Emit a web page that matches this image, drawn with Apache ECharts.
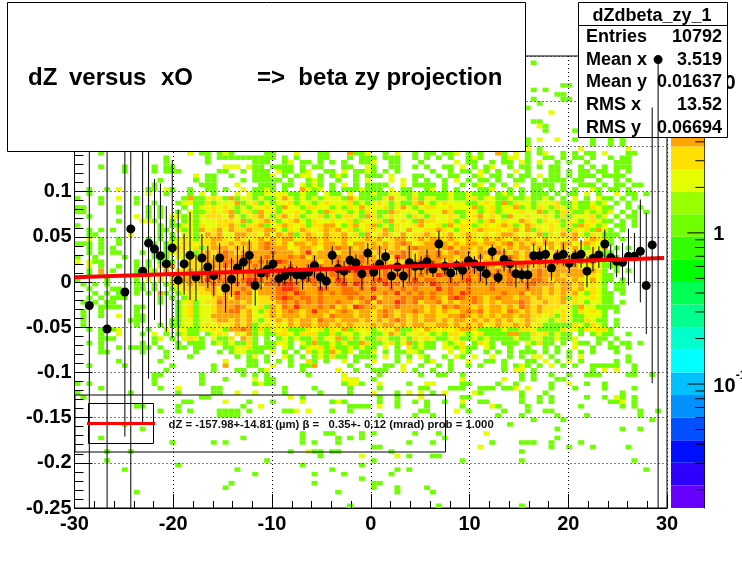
<!DOCTYPE html>
<html><head><meta charset="utf-8">
<style>html,body{margin:0;padding:0;background:#fff}#c{width:742px;height:565px}</style>
<script src="https://cdn.jsdelivr.net/npm/echarts@6/dist/echarts.min.js"></script>
</head><body><div id="c"></div>
<script>
// Bin counts. Top row first (y bin 99) down to y bin 0; x bins 0..99, grouped by ten.
const cellCountRows = [
"",
".......... .......... .......... .......... .......... .......... .......... .......1..",
"","","","",
".......... .......... .......... .......... .......... .......... .......... .......... ..11......",
".......... .......... .......... .......... .......... .......... .......... .......1.1",
".......... .......... .......... .......... .......... .......... .......... .......... .11.......",
".......... .......... .......... .......... .......... .......... .......... .......1.. ..11......",
".......... .......... .......... .......... .......... .......... .......... ........1.",
".......... .......... .......... .......... .......... .......... .......... ......1...",
".......... .......... .......... .......... .......... .......... .......... .......... 2.........",
"",
".......... .......... .......... .......... .......... .......... .......... .......11.",
".......... .......... .......... .......... .......... .......... .......... ........21",
".......... .......... .......... .......... .......... .......... .......... .........1 ....1.....",
"",
".......... .......... .......... .......... .......... .......... .......... ......1.2. .2..1..1.. 1.1.......",
".......... .......... .......... .......... .......... .......... .......... ......1... .......1.. 1.1.......",
".......... .......... .......... .......... .......... .......... .......... ......2.1. .....2.... ...2......",
"....1..... .........2 .11.121... ..11...2.. .11...4112 ..1.2..1.1 1.112.1.1. .41.2.1.12 ..1.1.11.2 ...11.....",
".......... .....1.... ..1.111111 1111.1.1.. .11...1.11 1.111..1.1 .1.1..121. ..122.1..1 1.1.11.1.. 1.11......",
".......... .....1.... ..1....... 111..12.11 .1.1.1..11 2..11...1. ....2.11.. 1.11.21.2. .1.1..1... .111......",
"....1...1. ...1.11... .....222.2 11.1111.1. 11...11..2 1..11..1.1 ..11.2.1.1 2..1.11.1. 11...1.1.1 .111......",
"........1. ...1.111.. ....11..1. 111.211.12 ..11.2.112 1.1.1..... 1..1.11.21 .1..2.1... 11.1.11.11 .1.1......",
".......... .......... 2.11..1... 1112.1.122 .1.121.1.1 11.2...11. .1.11..12. 11.1.11.2. 11.1.111.1 111.......",
".......... ....1..... 1.11....1. 11111.1..1 21..1..1.2 ...2.2.1.1 ..1.2.1.11 .1..11.1.1 111.11..1. .1.1......",
".......... ...1...... .111...2.. .111.11.21 21.1.2.1.1 111..2.111 1.1..1.12. 1.1.2..111 1.1..111.1 .11.11....",
"..1..1.2.. ..11.21..1 ..11.1..2. 1121.1..42 12.1.11121 11.2.11..1 2.1.1...11 2..1.1.11. 1.1.1..21. 11.1......",
"..1....... ..2..1...1 .2.1...2.2 1122221121 1.211.2.11 2112211211 1112112111 .121.1.111 .1.11.2.1. .2.11.1...",
"1...1..2.. 1.......14 1123214122 1211242121 2122214211 1124221312 2112112312 2112112112 1.1.2.1.21 1.1.1.....",
"....1..... 1..1...122 1131222412 3121223122 1232223121 2321211342 1232221123 2141322122 2311211212 .1.1......",
"11.....1.. ..1.1...1. 1223232121 2232142213 3221213242 2231242123 3223222412 3122412132 1321211321 1..1.1....",
"11.....1.. ..1.1..1.2 1123234123 1423122321 2143221213 2114322212 2243113212 3122232241 2133112121 2.1.1.1...",
"..1....... 2.1.1.2212 1233324212 3421342312 2312133214 3123221321 3223212342 3214223223 2131222312 .1.11.....",
".......1.. .221..1.12 1222333241 2343123421 3223223132 2314232143 3223123213 4232243213 2313212321 1.1.1.....",
"1......... ....1.1122 1322334313 3412343231 3344213423 4121322342 2314233123 2343124322 3213143212 .11.1.....",
"..1.1.1... ....11.212 1423424334 3344213243 2343423123 3241324223 3432132343 3323424132 3231323142 1.1.......",
"..11.....2 ....1.1.22 1243422443 3242434134 3243342314 2343242334 3234234323 2344323241 3243421321 11........",
"..2.1..1.. ..1.1.1232 1334432432 3434344234 4343343234 3423442343 4434324324 3432434324 23234.3432 1.1.......",
"111.1..1.. ...1.12233 2334334344 3464342443 4344342443 4343464234 4443434434 4346343434 4344234321 1.........",
"..1.1.1... ...1.12332 3134443434 3464442344 3244644343 4443434644 4346344343 3434344242 4243421324 .1.1......",
"..1.1.11.. .1.1.12323 1343464344 4446444348 3446344444 3434464344 4634644344 4643434344 3442432321 1.........",
"1..1....1. ...1.1.223 3343464464 4464446463 4444644464 4343864346 4644344363 4346434634 3644342321 .1.1......",
"2.211..... 1.1.1.1.33 3344466446 4644864444 6344644464 4643434464 6434344634 4443434644 3424343421 1.........",
"..2.1..1.. 1.1.3.4.23 3344464444 6446446446 4644646844 6446444634 4864446436 4363464344 3443422321 11........",
"..1.4.1... 1.21.4.334 3464444646 4466864646 6446646846 4464446446 8464346646 4646343464 3444442431 .1.1......",
"..1.1..... 1.1.3.4.44 4464646446 6484646664 6446644646 6464646464 4864466464 6446446464 4434442321 1.........",
"1....1.... 1.2.3.3444 4484664468 8646866468 6644864664 6864464846 6446468464 4846444664 3443432421 1.1.......",
".1.1.1.... 11.1.13334 3446444648 4366688644 6464684864 6486646664 8646646444 6446446644 4344342321 .11.......",
"..1...11.. 11.1..1233 3344344464 3444688644 4864466464 8446464644 4846446444 6444446443 4344342321 .11.......",
"...1.1.11. 1.1.41.123 2334344846 2444664864 4646466644 4464846464 6446486444 4464463443 4343421321 1.1.......",
"..1.1.111. ....1.1.13 2223443644 2334686466 4644446464 8344464664 6436864643 4644344343 3341322321 1.........",
".1.1.11... ....1..123 1233644434 2333464646 4644644346 3644864634 4634344643 4344464334 3342321221 1.1.......",
"....1111.. 11.....123 1223444643 2314364844 4646343864 4344644443 4364644343 4434364343 3323142211 11........",
".1..1..... 1......123 1223446634 2134346434 8443464344 3464344643 4343346463 4436434343 3232132321 .1........",
".1..1..2.. 11.....123 1224444434 2234344434 4436444344 3464343434 4334464343 4344344332 3132112221 ..........",
".1.......1 11....1122 1223443434 2123434344 3644344434 3434643434 4343443434 3434234322 1232113211 .1........",
".1........ 1...1.1122 1232323434 1232324344 3443434333 4344343443 3443434342 3433434231 1111321321 .1........",
"..1.1.12.. ..1..2.221 1223214464 1313231113 2313241323 1232411324 3232344311 1121133211 1132213233 1.........",
"....1..2.. .1.2.1.121 1.1232.324 1211332133 3113122122 1124312232 1213321231 1114411323 1211.1.121 1..1......",
"....111... ...12.1.23 21.2113.43 1.1.121211 3122413121 1321121323 2112311212 1111211221 12112...11 .1........",
"..1.1..... .1.1...1.1 11.1212113 1.11221.21 4112121143 1123124121 1.2123.132 1.111.2131 1.1.211.1. 1.11.1....",
"....1..1.1 111.1..11. 11...11223 1111.21.12 2313112121 1.2.1.3121 1.221311.2 1..1..1..1 .1..2..1.. 11.1......",
"....11.... .1...1.... 1...1.1221 11.2.1.1.3 1214212.11 2.1.11221. ...2.21..1 .1.1.111.1 .1.1.1.1.. .1........",
".......... .....1...1 .......1.1 2.1..21.1. 121311.111 1.2.1.1.21 ..1.21.2.. 2..1.1.22. 1..1.2.... ...1......",
".......1.. ....1..... .....2...1 1.1.1.1..3 1.1..2.1.. 2...1.2..1 2..1..2..1 1.1...11.2 .1.2.1.... .1.1......",
"..1.....1. ......1... ...1.4...1 1..2..1.11 4.....1..1 ..11.2..1. .1.1..1.1. ..1.121.1. 2.1.1..111 11..1.....",
".......... .....1.... ...1...11. .12.....1. ....2..1.. 111..2.1.. 1..1...... ..1.22.1.. .......1.2 .2..1.....",
".......... ...11..... .1......1. 1.1......1 .....2.... .1......1. .11..1.... .....1.1.. 1..1..111. ...11..1..",
".......... ...1...... .1...1.... 2.11...... .....222.. 1......... .....2.... ..2..1.1.. .11.......",
"1.1....... ...1...... .1........ 1211...... .....1221. .2....1..2 2....11... .1..1..... 1..2..1..1",
"....1..... ....1..2.. ...11..... .....1.... 1.....1... .1......11 ...111..11 1.112.2... 1...1....1 ....1.....",
"1........1 .......1.. ...11..2.. 2....1.... .1....1... 2...1.2.2. 1.2....21. .....1...1 .......... ..1.......",
".1........ .......... .11....... ......2.1. .......... .1..1...2. .....11... .....1..1. 1.....1..1 .21.1.....",
".......... ........11 .....2...1 ...1....2. ...121.... .1..1..1.1 ..1..2..11 .....1..1. 1......... 112.1.....",
".......... 11.....1.. ........1. .2........ ......1111 .2..1....1 .....1.... 21....1... .....1.... ..1.1.....",
".......... ....1..1.1 ....1111.1 .....112.2 ...1..1... ........11 ....2.1... ..1...1..1 1......... .....1..1.",
".......... .......... ....1111.. .......... .......... .1.....1.. 1......... .1...1.... .1....1... .....1....",
".......... .......... .......... .......... .......... .......... .......... .......1.. ..1....... .......1..",
"........1. .......... .......... .......... .......... .......... .......... ...1......",
".......... .1........ .......... .......... .......... .......... .......... .......... .1........ ..1..1....",
".......... .......... .......... ........1. ..11....1. 1......1.. .1.......2",
"....1..... .......... ........1. ........1. ....1.1.1. .......... ..1....... .......... .1........",
".......... ......1... ...1.1.... ........1. 1...1..... ......1... 1......... 1....111.. 1....1....",
".......... .......... .......... .......... .......... 11........ ........2. .......... 1..1...1.. ...1......",
".....1...1 .......... .......... ......1..2 11.11..... ...1...... .......... .....1....",
".......... .......... .......... .......... .1......2. ....2.1... 11........",
".....1.... .......... .......... ..1....... .......... 1......... .....1.... .....1.... .......... ....1.....",
".......... .......1.. .......... ........1. ........1.",
"........1. .......... .......1.. .......... ...1...... ....1.1... .......... .......... .......... ......1...",
".......... .......... .......... 1......... 1....1.... ...1......",
".......... .......... .......... .......... ........1.",
".......... .......... ......1... .......... 1......... 11........",
".......... .......... .....1.... .......... .......... 1...1....1",
".......... 1......... .......... .......... ....1..... ....1..... 1.........",
"","",
".......... .......... .......... .......... ......1... .......... .1........ .....1...."
];
const xBinCount = 100, yBinCount = 100;
const xMin = -30, xMax = 30, yMin = -0.25, yMax = 0.25;
const markerBins = [2,5,8,9,11,12,13,14,15,16,17,18,19,20,21,22,23,24,25,26,27,28,29,30,31,32,33,34,35,36,37,38,39,40,41,42,43,44,45,46,47,48,49,50,51,52,53,54,55,56,57,58,59,60,61,62,63,64,65,66,67,68,69,70,71,72,73,74,75,76,77,78,79,80,81,82,83,84,85,86,87,88,89,90,91,92,93,94,95,96,97,98];
const markerValues = [-.026,-.052,-.011,.0587,.012,.043,.0365,.029,.02,.0377,.002,.02,.0295,.0055,.0266,.0166,.007,.0266,-.0066,.003,.0155,.022,.0295,-.004,.01,.0137,.02,.0037,.007,.012,.008,.0074,.0107,.018,.0055,.001,.0295,.0148,.012,.024,.021,.009,.032,.011,.02,.028,.0066,.0166,.0066,.0214,.0173,.018,.0225,.0144,.042,.0173,.01,.018,.013,.0236,.02,.0166,.009,.0336,.005,.025,.02,.009,.008,.008,.029,.029,.0306,.0155,.0277,.0306,.0207,.028,.0306,.012,.026,.03,.042,.027,.023,.0218,.0284,.0284,.034,-.004,.041,.246];
const errorTops = [.25,.25,.25,.25,.25,.25,.114,.109,.084,.135,.08,.0535,.0775,.03,.053,.04,.03,.043,.021,.0266,.04,.04,.047,.0155,.0285,.0247,.034,.0118,.0173,.0229,.0173,.0155,.0192,.0292,.0173,.0118,.0395,.0247,.0229,.0395,.0303,.0192,.0432,.021,.0402,.0365,.0155,.0277,.0173,.0402,.0314,.0284,.0358,.0229,.0568,.0266,.0192,.0247,.0229,.034,.0284,.0314,.0173,.0413,.0129,.0369,.0273,.021,.0155,.0192,.0425,.0377,.0458,.0247,.0358,.0432,.0303,.0358,.0469,.0284,.0388,.0395,.058,.0413,.0406,.0432,.0591,.0543,.0912,.0764,.193,.25];
const errorBottoms = [-.25,-.25,-.171,-.25,-.156,-.107,-.042,-.05,-.055,-.062,-.075,-.014,-.02,-.021,-.001,-.0066,-.016,.0026,-.034,-.0166,-.005,.0026,.012,-.026,-.0085,.0026,.0063,-.0048,-.003,.0007,-.003,-.0085,.0007,.0044,-.0085,-.0085,.0192,.0026,-.0011,.01,.0118,-.0085,.0192,.0007,.0026,.0192,-.0074,.0063,-.0059,-.0004,.0026,.0081,.0081,.0055,.0277,.0081,-.0004,.0081,.0026,.0137,.0089,.0007,-.0037,.024,-.0018,.0118,.01,-.0059,-.0004,-.0074,.0155,.0192,.0155,.0015,.0192,.0181,.01,.0166,.0155,-.0059,.0118,.0155,.0266,.0137,.0052,.0015,-.0037,0,-.0225,-.0576,-.112,-.25];
const fitX = [-30, 29.7];
const fitY = [0.0052, 0.0266];
const xTickMajor = 10, yTickMajor = 0.05;
const paletteColors = ["#6600ff","#3000ff","#0010ff","#0050ff","#0090ff","#00bfff","#00ffff","#00ffcc","#00ff90","#00ff55","#00ff00","#33ff00","#70ff00","#99ff00","#e6ff00","#ffe000","#ffa500","#ff7000","#ff3000","#ff0000"];
const zLogMin = -1.82, zLogMax = 1.17;
const colorTickValues = [.02,.03,.04,.05,.06,.07,.08,.09,.1,.2,.3,.4,.5,.6,.7,.8,.9,1,2,3,4,5,6,7,8,9,10];
const colorMajorTicks = [.1,1,10];
const colorLabels = [["10","" ,10],["1","",1],["10","-1",.1]];
const statsTitle = "dZdbeta_zy_1";
const statsNames = ["Entries","Mean x","Mean y","RMS x","RMS y"];
const statsValues = ["10792","3.519","0.01637","13.52","0.06694"];
const titleParts = [["dZ",28],["versus",69],["xO",161],["=>  beta zy projection",257]];
const fitLabel = "dZ = -157.98+-14.81 (\u00b5m) \u03b2 =   0.35+- 0.12 (mrad) prob = 1.000";

const FONT = '"Liberation Sans", Arial, sans-serif';
const cells = [];
cellCountRows.forEach((row, r) => {
  const s = row.replace(/ /g, "");
  const j = yBinCount - 1 - r;
  for (let i = 0; i < s.length; i++) if (s[i] !== ".") cells.push([i, j, +s[i]]);
});
const xw = (xMax - xMin) / xBinCount, yw = (yMax - yMin) / yBinCount;
function colourOf(c) {
  const k = Math.floor((Math.log10(c) - zLogMin) / (zLogMax - zLogMin) * paletteColors.length);
  return paletteColors[Math.max(0, Math.min(paletteColors.length - 1, k))];
}
const points = markerBins.map((b, n) => [xMin + xw * (b + .5), markerValues[n], errorTops[n], errorBottoms[n]]);
const lowPts = points.slice(0, -2), highPts = points.slice(-2);
function errItem(p, api) {
  const a = api.coord([api.value(0), api.value(2)]), b = api.coord([api.value(0), api.value(3)]);
  return {type: "line", shape: {x1: a[0], y1: a[1], x2: b[0], y2: b[1]}, style: {stroke: "#000", lineWidth: 1}};
}
const bandH = (zLogMax - zLogMin) / paletteColors.length;
const chart = echarts.init(document.getElementById("c"), null, {renderer: "canvas"});
const axisText = {color: "#000", fontFamily: FONT, fontWeight: "bold", fontSize: 20};
const black = {color: "#000", width: 1};
const gfx = [
  {type: "rect", z: 6, shape: {x: 75, y: 395, width: 370.5, height: 57}, style: {fill: "none", stroke: "#000", lineWidth: 1}},
  {type: "rect", z: 6, shape: {x: 88.5, y: 403.5, width: 65, height: 40}, style: {fill: "none", stroke: "#000", lineWidth: 1}},
  {type: "line", z: 6, shape: {x1: 87, y1: 423.5, x2: 155, y2: 423.5}, style: {stroke: "#ff0000", lineWidth: 3}},
  {type: "text", z: 6, x: 168.5, y: 424.5, style: {text: fitLabel, font: "bold 11.3px " + FONT, fill: "#111", verticalAlign: "middle"}},
  {type: "rect", z: 8, shape: {x: 7.5, y: 2.5, width: 518, height: 149}, style: {fill: "#fff", stroke: "#000", lineWidth: 1}},
  {type: "rect", z: 6, shape: {x: 578.5, y: 2.5, width: 149, height: 135}, style: {fill: "#fff", stroke: "#000", lineWidth: 1}},
  {type: "line", z: 6, shape: {x1: 578, y1: 25.5, x2: 728, y2: 25.5}, style: {stroke: "#000", lineWidth: 1}},
  {type: "text", z: 6, x: 652, y: 16, style: {text: statsTitle, font: "bold 18px " + FONT, fill: "#000", align: "center", verticalAlign: "middle"}}
];
titleParts.forEach(p => gfx.push({type: "text", z: 9, x: p[1], y: 78, style: {text: p[0], font: "bold 24px " + FONT, fill: "#000", verticalAlign: "middle"}}));
statsNames.forEach((n, k) => {
  const y = 37 + k * 22.75;
  gfx.push({type: "text", z: 6, x: 586, y, style: {text: n, font: "bold 18px " + FONT, fill: "#000", verticalAlign: "middle"}});
  gfx.push({type: "text", z: 6, x: 722, y, style: {text: statsValues[k], font: "bold 18px " + FONT, fill: "#000", align: "right", verticalAlign: "middle"}});
});
chart.setOption({
  animation: false, backgroundColor: "#fff",
  grid: [
    {left: 74.5, top: 56, width: 592.5, height: 452, show: true, borderColor: "#000", borderWidth: 1, backgroundColor: "transparent", containLabel: false},
    {left: 671, top: 56, width: 33.3, height: 452, show: false}
  ],
  xAxis: [
    {type: "value", gridIndex: 0, min: xMin, max: xMax, interval: xTickMajor, z: 3,
      axisLine: {show: true, onZero: false, lineStyle: black},
      axisTick: {inside: true, length: 14, lineStyle: black},
      minorTick: {show: true, splitNumber: 5, length: 7, lineStyle: black},
      splitLine: {show: true, lineStyle: {color: "#000", width: 1, type: [1, 3]}},
      axisLabel: Object.assign({margin: 6, showMinLabel: true, showMaxLabel: true}, axisText)},
    {type: "value", gridIndex: 1, min: 0, max: 1, show: false}
  ],
  yAxis: [
    {type: "value", gridIndex: 0, min: yMin, max: yMax, interval: yTickMajor, z: 3,
      axisLine: {show: true, onZero: false, lineStyle: black},
      axisTick: {inside: true, length: 18, lineStyle: black},
      minorTick: {show: true, splitNumber: 5, length: 9, lineStyle: black},
      splitLine: {show: true, lineStyle: {color: "#000", width: 1, type: [1, 3]}},
      axisLabel: Object.assign({margin: 3, padding: [3, 0, 0, 0], formatter: v => String(Math.round(v * 100) / 100)}, axisText)},
    {type: "value", gridIndex: 1, min: zLogMin, max: zLogMax, position: "right",
      axisLine: {show: true, onZero: false, lineStyle: black}, axisTick: {show: false}, axisLabel: {show: false}, splitLine: {show: false}}
  ],
  graphic: gfx,
  series: [
    {type: "custom", name: "cells", xAxisIndex: 0, yAxisIndex: 0, z: 1, clip: true, silent: true, data: cells,
      renderItem: (p, api) => {
        const i = api.value(0), j = api.value(1);
        const a = api.coord([xMin + i * xw, yMin + (j + 1) * yw]), b = api.coord([xMin + (i + 1) * xw, yMin + j * yw]);
        return {type: "rect", shape: {x: a[0], y: a[1], width: b[0] - a[0], height: b[1] - a[1]}, style: {fill: colourOf(api.value(2))}};
      }},
    {type: "custom", name: "errors", xAxisIndex: 0, yAxisIndex: 0, z: 4, clip: true, silent: true, data: lowPts, renderItem: errItem},
    {type: "scatter", name: "points", xAxisIndex: 0, yAxisIndex: 0, z: 5, symbol: "circle", symbolSize: 9, itemStyle: {color: "#000", opacity: 1}, silent: true, data: lowPts.map(p => [p[0], p[1]])},
    {type: "custom", name: "errorsHigh", xAxisIndex: 0, yAxisIndex: 0, z: 7, clip: true, silent: true, data: highPts, renderItem: errItem},
    {type: "scatter", name: "pointsHigh", xAxisIndex: 0, yAxisIndex: 0, z: 7, symbol: "circle", symbolSize: 9, itemStyle: {color: "#000", opacity: 1}, silent: true, data: highPts.map(p => [p[0], p[1]])},
    {type: "line", name: "fit", xAxisIndex: 0, yAxisIndex: 0, z: 5.5, showSymbol: false, silent: true, lineStyle: {color: "#ff0000", width: 4}, data: fitX.map((x, k) => [x, fitY[k]])},
    {type: "custom", name: "palette", xAxisIndex: 1, yAxisIndex: 1, z: 1, silent: true, data: paletteColors.map((c, k) => [k]),
      renderItem: (p, api) => {
        const k = api.value(0);
        const a = api.coord([0, zLogMin + (k + 1) * bandH]), b = api.coord([1, zLogMin + k * bandH]);
        return {type: "rect", shape: {x: a[0], y: a[1], width: b[0] - a[0], height: b[1] - a[1]}, style: {fill: paletteColors[k]}};
      }},
    {type: "custom", name: "colorTicks", xAxisIndex: 1, yAxisIndex: 1, z: 3, silent: true, data: colorTickValues.map(v => [Math.log10(v), v]),
      renderItem: (p, api) => {
        const a = api.coord([1, api.value(0)]);
        const len = colorMajorTicks.includes(api.value(1)) ? 17 : 9;
        return {type: "line", shape: {x1: a[0], y1: a[1], x2: a[0] - len, y2: a[1]}, style: {stroke: "#000", lineWidth: 1}};
      }},
    {type: "custom", name: "colorLabels", xAxisIndex: 1, yAxisIndex: 1, z: 3, silent: true, data: colorLabels.map((l, k) => [Math.log10(l[2]), k]),
      renderItem: (p, api) => {
        const a = api.coord([1, api.value(0)]);
        const l = colorLabels[api.value(1)];
        const children = [{type: "text", x: a[0] + 9, y: a[1] + 2, style: {text: l[0], font: "bold 20px " + FONT, fill: "#000", verticalAlign: "middle"}}];
        if (l[1]) children.push({type: "text", x: a[0] + 31.5, y: a[1] - 8, style: {text: l[1], font: "bold 12px " + FONT, fill: "#000", verticalAlign: "middle"}});
        return {type: "group", children};
      }}
  ]
});
</script></body></html>
